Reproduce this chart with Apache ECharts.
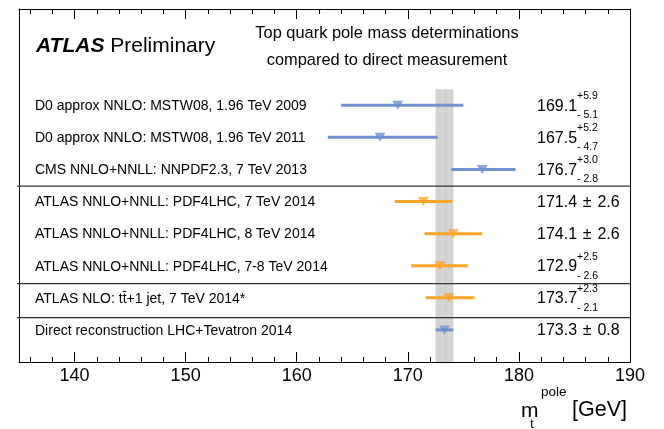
<!DOCTYPE html>
<html><head><meta charset="utf-8">
<script src="https://cdn.jsdelivr.net/npm/echarts@6/dist/echarts.min.js"></script>
<style>html,body{margin:0;padding:0;background:#fff}#c{width:664px;height:429px}</style>
</head><body><div id="c"></div>
<script>
const labels = [
  'D0 approx NNLO: MSTW08, 1.96 TeV 2009',
  'D0 approx NNLO: MSTW08, 1.96 TeV 2011',
  'CMS NNLO+NNLL: NNPDF2.3, 7 TeV 2013',
  'ATLAS NNLO+NNLL: PDF4LHC, 7 TeV 2014',
  'ATLAS NNLO+NNLL: PDF4LHC, 8 TeV 2014',
  'ATLAS NNLO+NNLL: PDF4LHC, 7-8 TeV 2014',
  'ATLAS NLO: tt\u0304+1 jet, 7 TeV 2014*',
  'Direct reconstruction LHC+Tevatron 2014'
];
const values = [169.1, 167.5, 176.7, 171.4, 174.1, 172.9, 173.7, 173.3];
const errUp  = [5.9, 5.2, 3.0, 2.6, 2.6, 2.5, 2.3, 0.8];
const errDn  = [5.1, 4.7, 2.8, 2.6, 2.6, 2.6, 2.1, 0.8];
const groups = ['tev', 'tev', 'tev', 'atlas', 'atlas', 'atlas', 'atlas', 'tev'];
const rows   = [3, 4, 5, 6, 7, 8, 9, 10];
const separators = [5.52, 8.56, 9.62];
const bandEdges = [172.5, 174.1];
const statEdges = [173.1, 173.7];
const bandRows = [2.5, 11];
const majorTicks = [140, 150, 160, 170, 180, 190];
const minorTicks = [136, 138, 142, 144, 146, 148, 152, 154, 156, 158, 162, 164, 166, 168, 172, 174, 176, 178, 182, 184, 186, 188];
const xRange = [135, 190];
const yRange = [0, 11];

const FONT = '"Liberation Sans", Arial, Helvetica, sans-serif';
const colors = { tev: '#7093cf', atlas: '#ffa42b' };

const chart = echarts.init(document.getElementById('c'), null, { renderer: 'canvas' });

function xAxisDef(pos, ticks, len, showLabel, showLine) {
  return {
    type: 'value', position: pos, min: xRange[0], max: xRange[1],
    axisLine: { show: showLine, onZero: false, lineStyle: { color: '#000', width: 1 } },
    axisTick: { show: true, inside: true, length: len, customValues: ticks, lineStyle: { color: '#000', width: 1 } },
    axisLabel: { show: showLabel, customValues: majorTicks, fontSize: 18, color: '#000', margin: 5, fontFamily: FONT },
    splitLine: { show: false }, minorTick: { show: false }
  };
}

const option = {
  backgroundColor: '#fff',
  animation: false,
  grid: { left: 19, top: 9, width: 611, height: 353 },
  xAxis: [
    xAxisDef('bottom', majorTicks, 10, true, true),
    xAxisDef('bottom', minorTicks, 5, false, false),
    xAxisDef('top', majorTicks, 10, false, true),
    xAxisDef('top', minorTicks, 5, false, false)
  ],
  yAxis: [
    { type: 'value', min: yRange[0], max: yRange[1], inverse: true, position: 'left',
      axisLine: { show: true, onZero: false, lineStyle: { color: '#000', width: 1 } },
      axisTick: { show: false }, axisLabel: { show: false }, splitLine: { show: false } },
    { type: 'value', min: yRange[0], max: yRange[1], inverse: true, position: 'right',
      axisLine: { show: true, onZero: false, lineStyle: { color: '#000', width: 1 } },
      axisTick: { show: false }, axisLabel: { show: false }, splitLine: { show: false } }
  ],
  series: [
    { // gray band for direct measurement
      type: 'custom', data: [[bandEdges[0], bandRows[0]]], z: 1, clip: false,
      renderItem: function (params, api) {
        const p0 = api.coord([bandEdges[0], bandRows[0]]);
        const p1 = api.coord([bandEdges[1], bandRows[1]]);
        const children = [{ type: 'rect', shape: { x: p0[0], y: p0[1], width: p1[0] - p0[0], height: p1[1] - p0[1] },
          style: { fill: '#d2d2d2' } }];
        statEdges.forEach(function (s) {
          const a = api.coord([s, bandRows[0]]), b = api.coord([s, bandRows[1]]);
          children.push({ type: 'line', shape: { x1: a[0], y1: a[1], x2: b[0], y2: b[1] },
            style: { stroke: '#f2f2f2', lineWidth: 1, lineDash: [1, 2] } });
        });
        return { type: 'group', children: children };
      }
    },
    { // separators
      type: 'custom', data: separators.map(function (s) { return [xRange[0], s]; }), z: 3, clip: false,
      renderItem: function (params, api) {
        const y = separators[params.dataIndex];
        const a = api.coord([xRange[0], y]), b = api.coord([xRange[1], y]);
        return { type: 'line', shape: { x1: a[0] - 2, y1: a[1], x2: b[0], y2: b[1] },
          style: { stroke: '#333', lineWidth: 1.2 } };
      }
    },
    { // error bars
      type: 'custom', data: values.map(function (v, i) { return [v, rows[i]]; }), z: 4,
      renderItem: function (params, api) {
        const i = params.dataIndex;
        const a = api.coord([values[i] - errDn[i], rows[i]]);
        const b = api.coord([values[i] + errUp[i], rows[i]]);
        return { type: 'line', shape: { x1: a[0], y1: a[1], x2: b[0], y2: b[1] },
          style: { stroke: colors[groups[i]], lineWidth: 3 } };
      }
    },
    { // markers
      type: 'scatter', z: 5, symbol: 'triangle', symbolRotate: 180, symbolSize: [11, 9],
      data: values.map(function (v, i) { return { value: [v, rows[i]], itemStyle: { color: colors[groups[i]] } }; })
    },
    { // labels and values text
      type: 'custom', data: values.map(function (v, i) { return [v, rows[i]]; }), z: 6, clip: false,
      renderItem: function (params, api) {
        const i = params.dataIndex;
        const p = api.coord([xRange[0], rows[i]]);
        const children = [{ type: 'text', x: p[0] + 16, y: p[1] + 1,
          style: { text: labels[i], fill: '#000', font: '14px ' + FONT, verticalAlign: 'middle', align: 'left' } }];
        const vx = p[0] + 518;
        const main = values[i].toFixed(1);
        if (errUp[i] === errDn[i]) {
          children.push({ type: 'text', x: vx, y: p[1] + 1,
            style: { text: main + '\u00a0\u200a\u00b1\u00a0\u200a' + errUp[i].toFixed(1), fill: '#000', font: '16px ' + FONT, verticalAlign: 'middle', align: 'left' } });
        } else {
          children.push({ type: 'text', x: vx, y: p[1] + 1,
            style: { text: main, fill: '#000', font: '16px ' + FONT, verticalAlign: 'middle', align: 'left' } });
          children.push({ type: 'text', x: vx + 40, y: p[1] - 9,
            style: { text: '+' + errUp[i].toFixed(1), fill: '#000', font: '10.5px ' + FONT, verticalAlign: 'middle', align: 'left' } });
          children.push({ type: 'text', x: vx + 40, y: p[1] + 10,
            style: { text: '- ' + errDn[i].toFixed(1), fill: '#000', font: '10.5px ' + FONT, verticalAlign: 'middle', align: 'left' } });
        }
        return { type: 'group', children: children };
      }
    }
  ],
  graphic: [
    { type: 'text', left: 36, top: 36, style: { rich: {
        a: { font: 'italic bold 21px ' + FONT, fill: '#000' },
        b: { font: '21px ' + FONT, fill: '#000' } },
      text: '{a|ATLAS}{b|\u00a0Preliminary}' } },
    { type: 'text', x: 387, y: 33, style: { text: 'Top quark pole mass determinations', font: '16.4px ' + FONT, fill: '#000', align: 'center', verticalAlign: 'middle' } },
    { type: 'text', x: 387, y: 60, style: { text: 'compared to direct measurement', font: '16.4px ' + FONT, fill: '#000', align: 'center', verticalAlign: 'middle' } },
    { type: 'text', x: 521, y: 411, style: { text: 'm', font: '21px ' + FONT, fill: '#000', verticalAlign: 'middle' } },
    { type: 'text', x: 541, y: 392, style: { text: 'pole', font: '13.5px ' + FONT, fill: '#000', verticalAlign: 'middle' } },
    { type: 'text', x: 530, y: 424, style: { text: 't', font: '13.5px ' + FONT, fill: '#000', verticalAlign: 'middle' } },
    { type: 'text', x: 572, y: 410, style: { text: '[GeV]', font: '21.5px ' + FONT, fill: '#000', verticalAlign: 'middle' } }
  ]
};
chart.setOption(option);
</script>
</body></html>
